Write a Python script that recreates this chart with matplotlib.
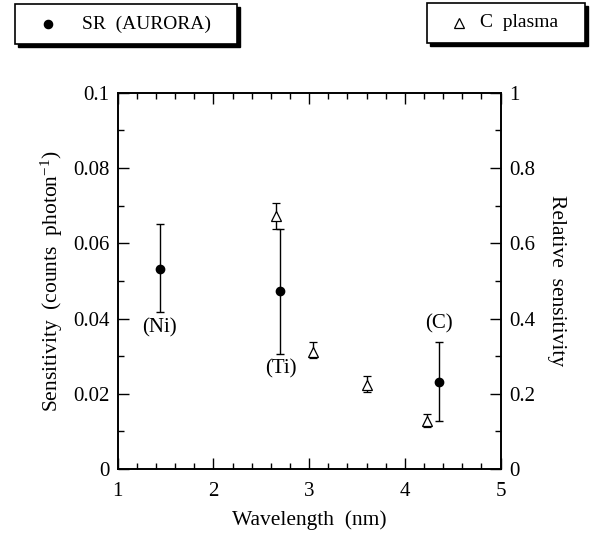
import numpy as np
import matplotlib
matplotlib.use("Agg")
import matplotlib.pyplot as plt
from matplotlib.patches import Rectangle
from matplotlib.lines import Line2D
from matplotlib.ticker import MultipleLocator

plt.rcParams["font.family"] = ["Liberation Serif", "DejaVu Serif"]
plt.rcParams["mathtext.fontset"] = "custom"
plt.rcParams["mathtext.rm"] = "Liberation Serif"
plt.rcParams["mathtext.it"] = "Liberation Serif:italic"

# SR (AURORA) measurements, left axis
sr_wavelength = [1.44, 2.70, 4.36]
sr_sens = [0.0532, 0.0472, 0.0232]
sr_err_low = [0.0115, 0.0165, 0.0105]
sr_err_high = [0.0118, 0.0167, 0.0106]
sr_labels = ["(Ni)", "(Ti)", "(C)"]
label_pos = [(1.44, 0.0375), (2.70, 0.0265), (4.36, 0.0385)]

# C plasma relative sensitivity, right axis
cp_wavelength = [2.65, 3.04, 3.60, 4.23]
cp_rel = [0.673, 0.312, 0.224, 0.127]
cp_err_low = [0.035, 0.018, 0.020, 0.015]
cp_err_high = [0.035, 0.026, 0.024, 0.020]

fig = plt.figure(figsize=(5.98, 5.33), dpi=100)
ax = fig.add_axes([0.197, 0.12, 0.64, 0.706])
ax2 = ax.twinx()

ax.errorbar(sr_wavelength, sr_sens, yerr=[sr_err_low, sr_err_high],
            fmt="o", color="black", ms=6, elinewidth=1.0, capsize=2.7,
            capthick=1.0)
for txt, (x, y) in zip(sr_labels, label_pos):
    ax.text(x, y, txt, ha="center", va="center", fontsize=15)

ax2.errorbar(cp_wavelength, cp_rel, yerr=[cp_err_low, cp_err_high],
             fmt="^", color="black", mfc="white", ms=7, mew=0.9,
             elinewidth=1.0, capsize=2.7, capthick=1.0)

ax.set_xlim(1, 5)
ax.set_ylim(0, 0.1)
ax2.set_ylim(0, 1)

ax.xaxis.set_major_locator(MultipleLocator(1))
ax.xaxis.set_minor_locator(MultipleLocator(0.2))
ax.yaxis.set_minor_locator(MultipleLocator(0.01))
ax2.yaxis.set_minor_locator(MultipleLocator(0.1))

ax.set_yticks([0, 0.02, 0.04, 0.06, 0.08, 0.1])
ax.set_yticklabels(["0", "0.02", "0.04", "0.06", "0.08", "0.1"])
ax2.set_yticks([0, 0.2, 0.4, 0.6, 0.8, 1.0])
ax2.set_yticklabels(["0", "0.2", "0.4", "0.6", "0.8", "1"])

ax.tick_params(which="both", direction="in", top=True, labelsize=15,
               width=1.0)
ax.tick_params(which="major", length=8, pad=6)
ax.tick_params(which="minor", length=4)
ax.tick_params(axis="x", which="major", pad=9)
ax.tick_params(axis="y", which="both", right=False)
ax2.tick_params(which="both", direction="in", labelsize=15, width=1.0)
ax2.tick_params(which="major", length=8, pad=6)
ax2.tick_params(which="minor", length=4)

for a in (ax, ax2):
    for s in a.spines.values():
        s.set_linewidth(1.2)

ax.set_xlabel("Wavelength  (nm)", fontsize=15.5, labelpad=7)
ax.set_ylabel("Sensitivity  (counts  photon$^{-1}$)", fontsize=15.5,
              labelpad=6)
ax2.set_ylabel("Relative  sensitivity", fontsize=15.5, rotation=270,
               labelpad=22)

# legend boxes at the top
boxes = [
    (0.025, 0.918, 0.371, 0.074, "o", "black", 6, 0.055, 0.112,
     "SR  (AURORA)"),
    (0.714, 0.920, 0.264, 0.074, "^", "white", 7, 0.0535, 0.0886,
     "C  plasma"),
]
sx, sy = 3 / 598, 3 / 533
for x0, y0, w, h, mk, fc, msz, mdx, tdx, txt in boxes:
    fig.add_artist(Rectangle((x0 + sx, y0 - sy), w, h,
                             transform=fig.transFigure, facecolor="black",
                             edgecolor="black", lw=1.0))
    fig.add_artist(Rectangle((x0, y0), w, h, transform=fig.transFigure,
                             facecolor="white", edgecolor="black", lw=1.2))
    fig.add_artist(Line2D([x0 + mdx], [y0 + h / 2], marker=mk,
                          color="black", mfc=fc, ms=msz, mew=0.9,
                          transform=fig.transFigure))
    fig.text(x0 + tdx, y0 + h / 2, txt, fontsize=14, va="center",
             ha="left")

fig.savefig("out.png", dpi=100)
